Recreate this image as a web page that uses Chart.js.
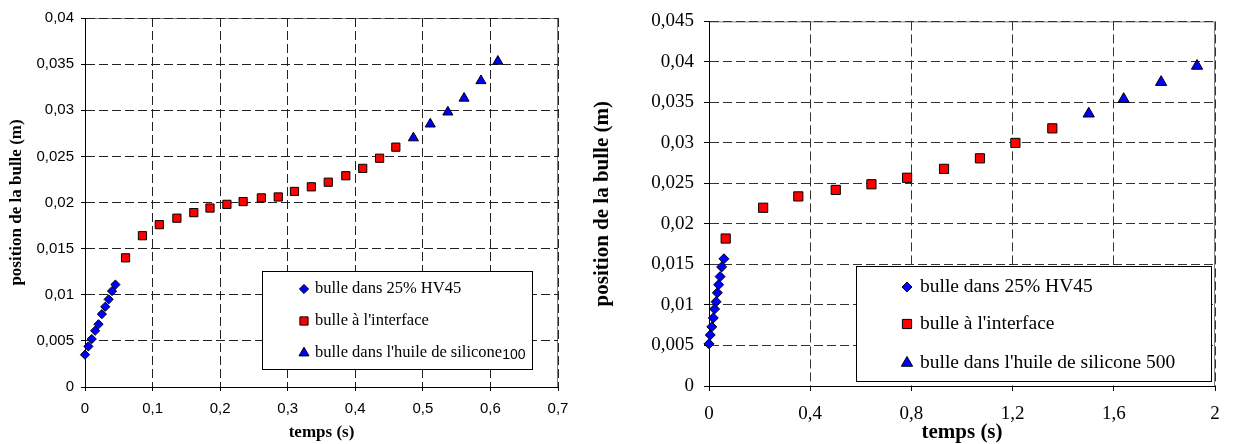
<!DOCTYPE html>
<html lang="fr">
<head>
<meta charset="utf-8">
<title>Position de la bulle</title>
<script src="https://cdn.jsdelivr.net/npm/chart.js@4.4.1/dist/chart.umd.min.js"></script>
<style>
  html, body { margin: 0; padding: 0; background: #fff; }
  #wrap { position: relative; width: 1234px; height: 444px; }
  #left { position: absolute; left: 0; top: 0; }
  #right { position: absolute; left: 590px; top: 0; }
</style>
</head>
<body>
<div id="wrap">
  <canvas id="left" width="590" height="444"></canvas>
  <canvas id="right" width="644" height="444"></canvas>
</div>
<script>
// left chart (silicone 100)
var t1Hv45 = [0, 0.005, 0.01, 0.015, 0.02, 0.025, 0.03, 0.035, 0.04, 0.045];
var y1Hv45 = [0.0035, 0.0044, 0.0052, 0.0061, 0.0068, 0.0079, 0.0087, 0.0095, 0.0104, 0.0111];
var t1Interface = [0.06, 0.085, 0.11, 0.136, 0.161, 0.185, 0.21, 0.234, 0.261, 0.286, 0.31, 0.335, 0.36, 0.386, 0.411, 0.436, 0.46];
var y1Interface = [0.0140, 0.0164, 0.0176, 0.0183, 0.0189, 0.0194, 0.0198, 0.0201, 0.0205, 0.0206, 0.0212, 0.0217, 0.0222, 0.0229, 0.0237, 0.0248, 0.0260];
var t1Silicone = [0.486, 0.511, 0.537, 0.561, 0.586, 0.611];
var y1Silicone = [0.0270, 0.0285, 0.0298, 0.0313, 0.0332, 0.0353];

// right chart (silicone 500)
var t2Hv45 = [0, 0.005, 0.011, 0.017, 0.022, 0.028, 0.033, 0.038, 0.044, 0.05, 0.059];
var y2Hv45 = [0.0052, 0.0063, 0.0073, 0.0084, 0.0095, 0.0104, 0.0115, 0.0125, 0.0135, 0.0147, 0.0157];
var t2Interface = [0.066, 0.214, 0.353, 0.501, 0.642, 0.783, 0.929, 1.071, 1.211, 1.357];
var y2Interface = [0.0182, 0.0220, 0.0234, 0.0242, 0.0249, 0.0257, 0.0268, 0.0281, 0.0300, 0.0318];
var t2Silicone = [1.501, 1.639, 1.787, 1.929];
var y2Silicone = [0.0336, 0.0354, 0.0375, 0.0395];

var labels1 = ["bulle dans 25% HV45", "bulle à l'interface", "bulle dans l'huile de silicone100"];
var labels2 = ["bulle dans 25% HV45", "bulle à l'interface", "bulle dans l'huile de silicone 500"];

var xTitle = "temps (s)";
var yTitle = "position de la bulle (m)";

var SERIF = "'Liberation Serif', 'Times New Roman', serif";
var SANS = "'Liberation Sans', Arial, sans-serif";

function pts(xs, ys) {
  var out = [];
  for (var i = 0; i < xs.length; i++) {
    out.push({ x: xs[i], y: ys[i] });
  }
  return out;
}

function comma(v) {
  return String(+Number(v).toFixed(4)).replace(".", ",");
}

// grey plot frame under the grid, legend box on top
var frameAndLegend = {
  id: "frameAndLegend",
  beforeDraw: function (chart, args, opts) {
    var a = chart.chartArea;
    var ctx = chart.ctx;
    ctx.save();
    ctx.strokeStyle = opts.frameColor;
    ctx.lineWidth = 1;
    ctx.beginPath();
    ctx.moveTo(a.left, a.top + 0.5);
    ctx.lineTo(a.right - 0.5, a.top + 0.5);
    ctx.lineTo(a.right - 0.5, a.bottom);
    ctx.stroke();
    ctx.restore();
  },
  afterDraw: function (chart, args, opts) {
    var ctx = chart.ctx;
    var b = opts.box;
    ctx.save();
    ctx.fillStyle = "#fff";
    ctx.fillRect(b.x, b.y, b.w, b.h);
    ctx.strokeStyle = "#000";
    ctx.lineWidth = 1;
    ctx.strokeRect(b.x + 0.5, b.y + 0.5, b.w, b.h);
    chart.data.datasets.forEach(function (ds, i) {
      var y = opts.rowY[i];
      ctx.fillStyle = ds.pointBackgroundColor;
      ctx.strokeStyle = ds.pointBorderColor;
      ctx.lineWidth = 1;
      Chart.helpers.drawPoint(ctx, {
        pointStyle: ds.pointStyle, radius: ds.pointRadius, rotation: 0, borderWidth: 1,
      }, opts.markerX, y);
      ctx.fillStyle = "#000";
      ctx.textBaseline = "middle";
      ctx.textAlign = "left";
      ctx.font = opts.font;
      var text = ds.label;
      if (opts.tail && text.slice(-opts.tail.length) === opts.tail) {
        var head = text.slice(0, -opts.tail.length);
        ctx.fillText(head, opts.textX, y);
        var w = ctx.measureText(head).width;
        ctx.font = opts.tailFont;
        ctx.fillText(opts.tail, opts.textX + w, y + 2);
      } else {
        ctx.fillText(text, opts.textX, y);
      }
    });
    ctx.restore();
  },
};

function makeChart(el, cfg) {
  return new Chart(el, {
    type: "scatter",
    data: {
      datasets: [
        {
          label: cfg.labels[0],
          data: cfg.sets[0],
          clip: false,
          pointStyle: "rectRot",
          pointRadius: cfg.radius[0],
          pointBackgroundColor: "#0000ff",
          pointBorderColor: "#000",
          pointBorderWidth: 1,
        },
        {
          label: cfg.labels[1],
          data: cfg.sets[1],
          clip: false,
          pointStyle: "rect",
          pointRadius: cfg.radius[1],
          pointBackgroundColor: "#ff0000",
          pointBorderColor: "#000",
          pointBorderWidth: 1,
        },
        {
          label: cfg.labels[2],
          data: cfg.sets[2],
          clip: false,
          pointStyle: "triangle",
          pointRadius: cfg.radius[2],
          pointBackgroundColor: "#0000ff",
          pointBorderColor: "#000",
          pointBorderWidth: 1,
        },
      ],
    },
    options: {
      responsive: false,
      animation: false,
      events: [],
      layout: { padding: cfg.padding },
      plugins: {
        legend: { display: false },
        tooltip: { enabled: false },
        frameAndLegend: cfg.legend,
      },
      scales: {
        x: {
          type: "linear",
          min: 0,
          max: cfg.xMax,
          afterFit: function (s) { s.height = cfg.xHeight; },
          ticks: {
            stepSize: cfg.xStep,
            color: "#000",
            padding: cfg.xTickPad,
            maxRotation: 0,
            font: cfg.tickFont,
            callback: function (v) { return comma(v); },
          },
          grid: { color: cfg.gridColor, tickColor: "#000", tickLength: cfg.tickLen },
          border: { display: true, color: "#000", width: 1, dash: [9, 4] },
          title: {
            display: true,
            text: xTitle,
            color: "#000",
            font: cfg.titleFont,
            padding: { top: 0, bottom: cfg.xTitlePad },
          },
        },
        y: {
          type: "linear",
          min: 0,
          max: cfg.yMax,
          afterFit: function (s) { s.width = cfg.yWidth; },
          ticks: {
            stepSize: 0.005,
            color: "#000",
            padding: cfg.yTickPad,
            font: cfg.tickFont,
            callback: function (v) { return comma(v); },
          },
          grid: { color: cfg.gridColor, tickColor: "#000", tickLength: cfg.tickLen },
          border: { display: true, color: "#000", width: 1, dash: [9, 4] },
          title: {
            display: true,
            text: yTitle,
            color: "#000",
            font: cfg.titleFont,
            padding: { top: cfg.yTitlePad, bottom: 0 },
          },
        },
      },
    },
    plugins: [frameAndLegend],
  });
}

function init() {
  makeChart(document.getElementById("left"), {
    labels: labels1,
    sets: [pts(t1Hv45, y1Hv45), pts(t1Interface, y1Interface), pts(t1Silicone, y1Silicone)],
    radius: [4.6, 5.8, 5.8],
    padding: { left: 0, top: 18, right: 32, bottom: 0 },
    xMax: 0.7,
    xStep: 0.1,
    yMax: 0.04,
    xHeight: 57,
    yWidth: 85,
    tickLen: 4,
    xTickPad: 9,
    yTickPad: 7,
    xTitlePad: 2.5,
    yTitlePad: 8.5,
    gridColor: "#222",
    tickFont: { family: SANS, size: 15 },
    titleFont: { family: SERIF, size: 17, weight: "bold", lineHeight: 1 },
    legend: {
      frameColor: "#808080",
      box: { x: 262, y: 271, w: 270, h: 98 },
      rowY: [289, 321, 353],
      markerX: 304,
      textX: 315,
      font: "16.5px " + SERIF,
      tail: "100",
      tailFont: "14px " + SANS,
    },
  });

  makeChart(document.getElementById("right"), {
    labels: labels2,
    sets: [pts(t2Hv45, y2Hv45), pts(t2Interface, y2Interface), pts(t2Silicone, y2Silicone)],
    radius: [5, 6.5, 6.5],
    padding: { left: 0, top: 19, right: 19, bottom: 0 },
    xMax: 2,
    xStep: 0.4,
    yMax: 0.045,
    xHeight: 58,
    yWidth: 119,
    tickLen: 5,
    xTickPad: 11.6,
    yTickPad: 10,
    xTitlePad: 0.5,
    yTitlePad: 2.5,
    gridColor: "#333",
    tickFont: { family: SERIF, size: 19 },
    titleFont: { family: SERIF, size: 21, weight: "bold", lineHeight: 1 },
    legend: {
      frameColor: "#808080",
      box: { x: 266, y: 266, w: 355, h: 115 },
      rowY: [287, 324, 363],
      markerX: 317,
      textX: 330,
      font: "19.5px " + SERIF,
    },
  });
}

if (document.readyState === "loading") {
  document.addEventListener("DOMContentLoaded", init);
} else {
  init();
}
</script>
</body>
</html>
